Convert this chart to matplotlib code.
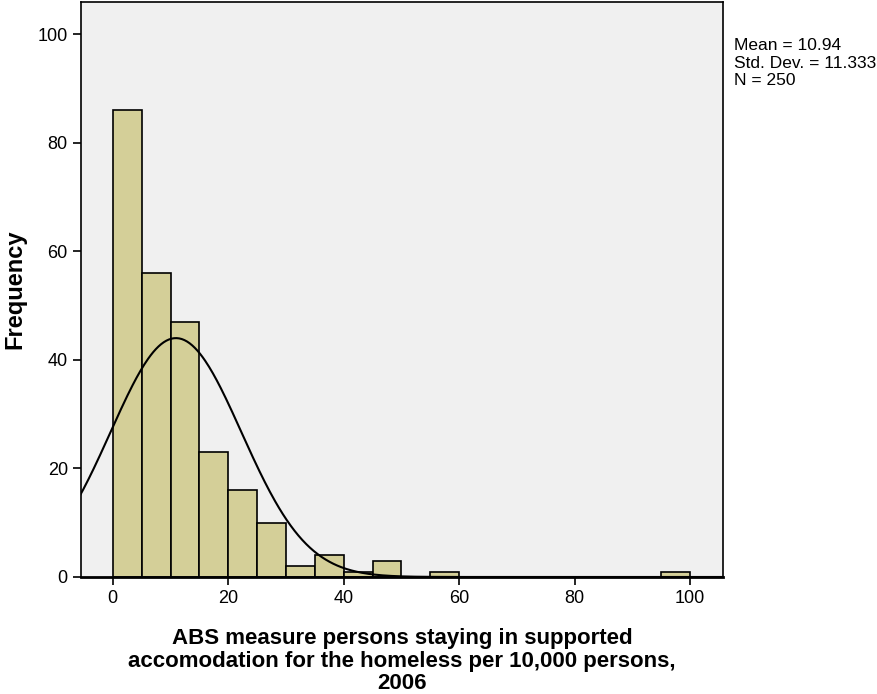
import numpy as np
import matplotlib.pyplot as plt

plt.rcParams['font.family'] = ['Liberation Sans', 'DejaVu Sans']

# histogram bins (width 5) and counts
bin_edges = [0, 5, 10, 15, 20, 25, 30, 35, 40, 45, 50, 55, 60, 65, 70, 75, 80, 85, 90, 95, 100]
counts = [86, 56, 47, 23, 16, 10, 2, 4, 1, 3, 0, 1, 0, 0, 0, 0, 0, 0, 0, 1]
mean = 10.94
std = 11.333
n = 250

fig = plt.figure(figsize=(8.78, 6.94), dpi=100)
ax = fig.add_axes([0.0923, 0.1686, 0.7312, 0.8284])
ax.set_facecolor('#f0f0f0')

lefts = bin_edges[:-1]
width = bin_edges[1] - bin_edges[0]
ax.bar(lefts, counts, width=width, align='edge', color='#d4cf98',
       edgecolor='black', linewidth=1.2, zorder=2)

# normal curve scaled to counts
x = np.linspace(-6, 106, 500)
y = n * width / (std * np.sqrt(2 * np.pi)) * np.exp(-0.5 * ((x - mean) / std) ** 2)
ax.plot(x, y, color='black', linewidth=1.5, zorder=3)

ax.set_xlim(-5.5, 105.7)
ax.set_ylim(0, 105.9)
ax.set_xticks([0, 20, 40, 60, 80, 100])
ax.set_yticks([0, 20, 40, 60, 80, 100])
ax.tick_params(direction='out', length=6, width=1.2, labelsize=13, colors='black')
for s in ax.spines.values():
    s.set_linewidth(1.2)
ax.spines['bottom'].set_linewidth(2)

ax.set_ylabel('Frequency', fontsize=17, fontweight='bold', labelpad=8)
ax.set_xlabel('ABS measure persons staying in supported\naccomodation for the homeless per 10,000 persons,\n2006',
              fontsize=16, fontweight='bold', linespacing=1.1, labelpad=15)

fig.text(0.836, 0.945, 'Mean = 10.94\nStd. Dev. = 11.333\nN = 250',
         fontsize=12.5, va='top', ha='left', linespacing=1.2)

fig.savefig('out.png', dpi=100)
